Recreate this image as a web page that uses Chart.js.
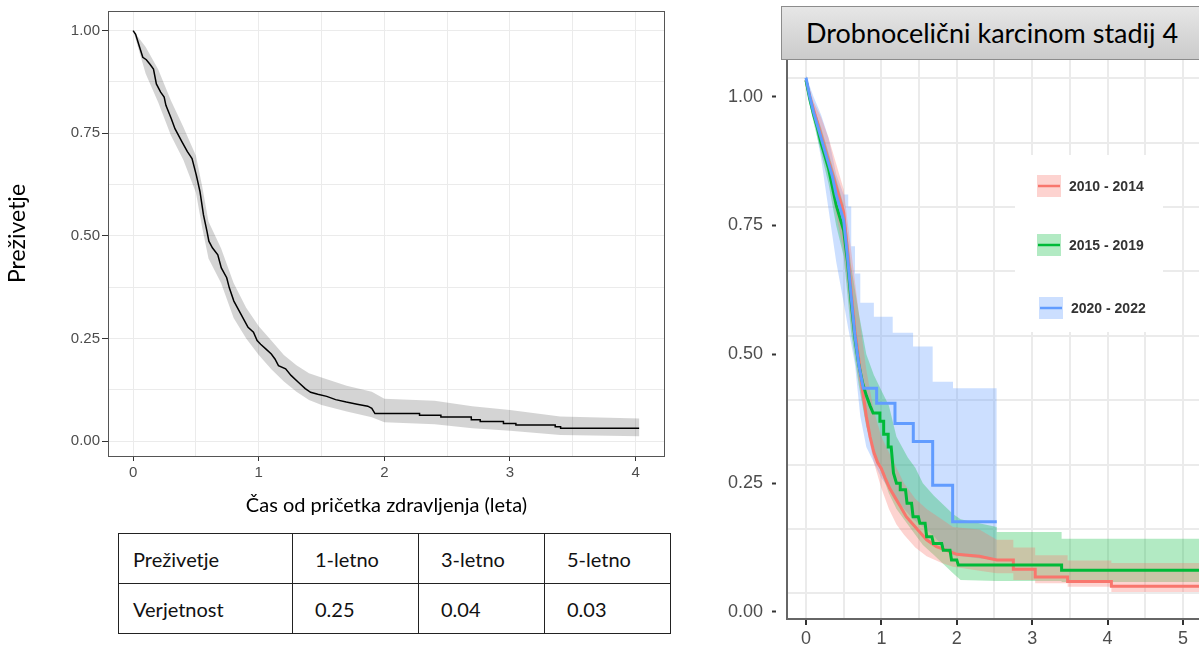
<!DOCTYPE html>
<html>
<head>
<meta charset="utf-8">
<script src="https://cdn.jsdelivr.net/npm/chart.js@4.4.0/dist/chart.umd.min.js"></script>
<style>
  html, body { margin: 0; padding: 0; background: #fff; overflow: hidden; }
  body { width: 1199px; height: 645px; position: relative; font-family: Lato, 'Open Sans', sans-serif; }
  #left { position: absolute; left: 0; top: 0; }
  #right { position: absolute; left: 700px; top: 0; }
  #title {
    position: absolute; left: 781px; top: 6px; width: 440px; height: 54px;
    box-sizing: border-box; border: 1px solid #8c8c8c;
    background: linear-gradient(#e6e6e6, #cbcbcb);
    font-size: 27px; line-height: 52px; padding-left: 24px; color: #000; white-space: nowrap;
  }
  table { position: absolute; left: 118px; top: 533px; border-collapse: collapse; font-size: 20px; color: #111; }
  td { border: 1px solid #222; height: 50px; box-sizing: border-box; padding: 0 0 0 22px; }
  td:first-child { padding-left: 14px; }
</style>
</head>
<body>
<canvas id="left" width="700" height="520"></canvas>
<canvas id="right" width="513" height="645"></canvas>
<div id="title">Drobnocelični karcinom stadij 4</div>
<table>
  <colgroup><col style="width:174px"><col style="width:126px"><col style="width:126px"><col style="width:126px"></colgroup>
  <tr><td>Preživetje</td><td>1-letno</td><td>3-letno</td><td>5-letno</td></tr>
  <tr><td>Verjetnost</td><td>0.25</td><td>0.04</td><td>0.03</td></tr>
</table>
<script>
// ---- left panel: overall survival (step corners written out where they are visible) ----
const kmTime = [0, 0.02, 0.048, 0.077, 0.105, 0.134, 0.162, 0.185, 0.219, 0.247, 0.261, 0.304, 0.333, 0.389, 0.432, 0.469, 0.503, 0.532, 0.56, 0.588, 0.603, 0.631, 0.674, 0.702, 0.745, 0.765, 0.802, 0.844, 0.887, 0.915, 0.958, 0.987, 1.015, 1.058, 1.1, 1.129, 1.157, 1.214, 1.257, 1.313, 1.37, 1.413, 1.47, 1.541, 1.612, 1.697, 1.783, 1.868, 1.9, 1.925, 2.28, 2.28, 2.45, 2.45, 2.692, 2.692, 2.763, 2.763, 2.948, 2.948, 3.047, 3.047, 3.36, 3.36, 3.403, 3.403, 4.028];
const kmSurv = [1, 0.991, 0.963, 0.935, 0.929, 0.918, 0.906, 0.87, 0.85, 0.838, 0.818, 0.785, 0.761, 0.729, 0.705, 0.688, 0.648, 0.608, 0.551, 0.511, 0.487, 0.471, 0.454, 0.422, 0.398, 0.374, 0.341, 0.317, 0.293, 0.277, 0.265, 0.245, 0.236, 0.224, 0.212, 0.2, 0.184, 0.176, 0.16, 0.144, 0.128, 0.119, 0.114, 0.109, 0.101, 0.095, 0.09, 0.085, 0.08, 0.067, 0.067, 0.063, 0.063, 0.059, 0.059, 0.052, 0.052, 0.048, 0.048, 0.043, 0.043, 0.039, 0.039, 0.035, 0.035, 0.031, 0.031];
const ciTime = [0, 0.1, 0.2, 0.3, 0.4, 0.5, 0.55, 0.6, 0.7, 0.8, 0.9, 1.0, 1.1, 1.2, 1.3, 1.4, 1.5, 1.7, 1.9, 2.0, 2.4, 2.7, 3.0, 3.4, 4.03];
const ciHigh = [1, 0.96, 0.905, 0.83, 0.765, 0.695, 0.62, 0.535, 0.47, 0.385, 0.325, 0.28, 0.245, 0.21, 0.185, 0.165, 0.155, 0.135, 0.12, 0.103, 0.098, 0.085, 0.076, 0.06, 0.055];
const ciLow = [1, 0.895, 0.825, 0.745, 0.685, 0.605, 0.52, 0.445, 0.385, 0.3, 0.25, 0.21, 0.175, 0.145, 0.12, 0.1, 0.088, 0.072, 0.058, 0.046, 0.041, 0.031, 0.025, 0.015, 0.012];
const leftXTicks = [0, 1, 2, 3, 4];
const leftXLabels = ['0', '1', '2', '3', '4'];
const leftXGrid = [0, 0.5, 1, 1.5, 2, 2.5, 3, 3.5, 4];
const leftYTicks = [0, 0.25, 0.5, 0.75, 1];
const leftYLabels = ['0.00', '0.25', '0.50', '0.75', '1.00'];
const leftYGrid = [0, 0.125, 0.25, 0.375, 0.5, 0.625, 0.75, 0.875, 1];

// ---- right panel: by period ----
const periods = ['2010 - 2014', '2015 - 2019', '2020 - 2022'];
const colors = ['#F8766D', '#00BA38', '#619CFF'];
const fills = ['rgba(248,118,109,0.32)', 'rgba(0,186,56,0.3)', 'rgba(97,156,255,0.32)'];

const redTime = [0, 0.05, 0.1, 0.15, 0.2, 0.25, 0.3, 0.35, 0.4, 0.45, 0.5, 0.55, 0.6, 0.65, 0.7, 0.75, 0.8, 0.85, 0.9, 0.95, 1.0, 1.05, 1.11, 1.19, 1.25, 1.33, 1.45, 1.6, 1.73, 1.91, 2.0, 2.3, 2.53, 2.75, 2.75, 3.04, 3.04, 3.47, 3.47, 4.05, 4.05, 5.4];
const redSurv = [1.032, 1.0, 0.975, 0.95, 0.925, 0.9, 0.875, 0.85, 0.825, 0.8, 0.775, 0.7, 0.62, 0.545, 0.49, 0.43, 0.38, 0.34, 0.31, 0.29, 0.278, 0.26, 0.24, 0.22, 0.205, 0.185, 0.165, 0.14, 0.127, 0.117, 0.112, 0.108, 0.101, 0.101, 0.083, 0.083, 0.068, 0.068, 0.059, 0.059, 0.05, 0.05];
const redCiTime = [0, 0.1, 0.2, 0.3, 0.4, 0.5, 0.6, 0.7, 0.8, 0.9, 1.0, 1.1, 1.2, 1.3, 1.45, 1.6, 1.8, 1.95, 2.3, 2.53, 2.75, 2.75, 3.04, 3.04, 3.47, 3.47, 4.05, 4.05, 5.4];
const redCiHigh = [1.04, 0.99, 0.96, 0.92, 0.87, 0.82, 0.7, 0.58, 0.47, 0.39, 0.34, 0.31, 0.28, 0.25, 0.22, 0.2, 0.18, 0.165, 0.16, 0.14, 0.14, 0.125, 0.125, 0.11, 0.11, 0.1, 0.1, 0.095, 0.095];
const redCiLow = [1.02, 0.96, 0.91, 0.85, 0.77, 0.7, 0.56, 0.45, 0.36, 0.29, 0.24, 0.2, 0.17, 0.15, 0.125, 0.108, 0.095, 0.088, 0.08, 0.075, 0.075, 0.062, 0.062, 0.056, 0.056, 0.049, 0.049, 0.039, 0.039];

const greenTime = [0, 0.05, 0.1, 0.15, 0.2, 0.25, 0.3, 0.35, 0.4, 0.45, 0.5, 0.55, 0.6, 0.65, 0.7, 0.75, 0.8, 0.85, 0.89, 0.98, 0.98, 1.03, 1.03, 1.09, 1.09, 1.13, 1.16, 1.2, 1.25, 1.25, 1.32, 1.34, 1.4, 1.42, 1.49, 1.51, 1.58, 1.6, 1.67, 1.69, 1.8, 1.82, 1.91, 1.93, 2.0, 2.02, 3.39, 3.39, 5.4];
const greenSurv = [1.032, 0.995, 0.965, 0.94, 0.91, 0.885, 0.86, 0.825, 0.79, 0.765, 0.74, 0.68, 0.6, 0.53, 0.48, 0.445, 0.42, 0.4, 0.386, 0.386, 0.37, 0.37, 0.345, 0.345, 0.32, 0.32, 0.27, 0.25, 0.25, 0.237, 0.237, 0.211, 0.211, 0.185, 0.185, 0.172, 0.172, 0.146, 0.146, 0.133, 0.133, 0.12, 0.12, 0.101, 0.101, 0.091, 0.091, 0.081, 0.081];
const greenCiTime = [0, 0.1, 0.2, 0.3, 0.4, 0.5, 0.6, 0.7, 0.8, 0.9, 1.0, 1.1, 1.2, 1.35, 1.45, 1.55, 1.7, 1.95, 2.05, 2.53, 2.53, 3.39, 3.39, 5.4];
const greenCiHigh = [1.04, 0.98, 0.94, 0.89, 0.84, 0.79, 0.67, 0.58, 0.5, 0.46, 0.43, 0.4, 0.34, 0.3, 0.28, 0.25, 0.225, 0.19, 0.18, 0.165, 0.155, 0.155, 0.142, 0.142];
const greenCiLow = [1.02, 0.95, 0.89, 0.83, 0.75, 0.69, 0.54, 0.44, 0.36, 0.31, 0.27, 0.23, 0.2, 0.17, 0.15, 0.13, 0.11, 0.075, 0.062, 0.06, 0.06, 0.06, 0.058, 0.058];

const blueTime = [0, 0.05, 0.1, 0.15, 0.2, 0.25, 0.3, 0.35, 0.4, 0.45, 0.5, 0.55, 0.6, 0.65, 0.7, 0.76, 0.937, 0.937, 1.18, 1.18, 1.423, 1.423, 1.68, 1.68, 1.945, 1.945, 2.53];
const blueSurv = [1.037, 1.0, 0.97, 0.945, 0.92, 0.895, 0.87, 0.845, 0.81, 0.785, 0.76, 0.69, 0.61, 0.535, 0.48, 0.434, 0.434, 0.405, 0.405, 0.366, 0.366, 0.331, 0.331, 0.246, 0.246, 0.175, 0.175];
const blueCiTime = [0, 0.1, 0.2, 0.3, 0.4, 0.5, 0.56, 0.56, 0.6, 0.6, 0.65, 0.65, 0.72, 0.72, 0.8, 0.9, 0.9, 1.0, 1.15, 1.15, 1.3, 1.42, 1.42, 1.55, 1.68, 1.68, 1.8, 1.95, 1.95, 2.53];
const blueCiHigh = [1.04, 1.0, 0.965, 0.92, 0.85, 0.81, 0.81, 0.787, 0.787, 0.71, 0.71, 0.657, 0.657, 0.6, 0.6, 0.6, 0.573, 0.573, 0.573, 0.542, 0.542, 0.542, 0.515, 0.515, 0.515, 0.447, 0.447, 0.447, 0.434, 0.434];
const blueCiLow = [1.03, 0.96, 0.88, 0.78, 0.68, 0.6, 0.55, 0.55, 0.52, 0.52, 0.48, 0.48, 0.38, 0.38, 0.32, 0.29, 0.29, 0.26, 0.23, 0.23, 0.2, 0.18, 0.18, 0.165, 0.15, 0.15, 0.13, 0.11, 0.11, 0.1];

const rightXTicks = [0, 1, 2, 3, 4, 5];
const rightXLabels = ['0', '1', '2', '3', '4', '5'];
const rightXGrid = [0, 0.5, 1, 1.5, 2, 2.5, 3, 3.5, 4, 4.5, 5];
const rightYTicks = [0, 0.25, 0.5, 0.75, 1];
const rightYLabels = ['0.00', '0.25', '0.50', '0.75', '1.00'];
// the panel's grid sits a little above the printed tick marks
const rightGridShift = 0.036;
const rightYGrid = [0, 0.125, 0.25, 0.375, 0.5, 0.625, 0.75, 0.875, 1].map(v => v + rightGridShift);

const pts = (xs, ys) => xs.map((x, i) => ({x: x, y: ys[i]}));
const pick = (ticks, labels) => v => {
  const i = ticks.indexOf(v);
  return i >= 0 ? labels[i] : '';
};
const majorColor = (ticks, c) => ctx => (ticks.indexOf(ctx.tick && ctx.tick.value) >= 0 ? c : 'rgba(0,0,0,0)');

const panelBorder = {
  id: 'panelBorder',
  afterDraw(chart) {
    const a = chart.chartArea, ctx = chart.ctx;
    ctx.save();
    ctx.strokeStyle = '#555';
    ctx.lineWidth = 1;
    ctx.strokeRect(a.left + 0.5, a.top + 0.5, a.right - a.left - 1, a.bottom - a.top);
    ctx.restore();
  }
};

new Chart(document.getElementById('left'), {
  type: 'line',
  data: {
    datasets: [
      { data: pts(kmTime, kmSurv), borderColor: '#000', borderWidth: 1.5, pointRadius: 0, fill: false, order: 0 },
      { data: pts(ciTime, ciHigh), borderColor: 'rgba(0,0,0,0)', borderWidth: 0, backgroundColor: 'rgba(0,0,0,0.17)', fill: '+1', pointRadius: 0, order: 1 },
      { data: pts(ciTime, ciLow), borderColor: 'rgba(0,0,0,0)', borderWidth: 0, fill: false, pointRadius: 0, order: 1 }
    ]
  },
  options: {
    responsive: false,
    animation: false,
    layout: { padding: { left: 0, right: 35, top: 8, bottom: 0 } },
    plugins: { legend: { display: false }, tooltip: { enabled: false } },
    scales: {
      x: {
        type: 'linear', min: -0.2, max: 4.234,
        afterBuildTicks: s => { s.ticks = leftXGrid.map(v => ({value: v})); },
        afterFit: s => { s.height = 64; },
        ticks: { callback: pick(leftXTicks, leftXLabels), autoSkip: false, maxRotation: 0, padding: 3,
                 color: '#4d4d4d', font: { family: 'Liberation Sans', size: 15 } },
        grid: { color: '#ebebeb', tickLength: 5, tickColor: majorColor(leftXTicks, '#333') },
        border: { display: false },
        title: { display: true, text: 'Čas od pričetka zdravljenja (leta)', color: '#000',
                 font: { family: 'Lato', size: 20 }, padding: { top: 0, bottom: 2 } }
      },
      y: {
        type: 'linear', min: -0.0363, max: 1.0477,
        afterBuildTicks: s => { s.ticks = leftYGrid.map(v => ({value: v})); },
        afterFit: s => { s.width = 108; },
        ticks: { callback: pick(leftYTicks, leftYLabels), autoSkip: false, padding: 2,
                 color: '#4d4d4d', font: { family: 'Liberation Sans', size: 15 } },
        grid: { color: '#ebebeb', tickLength: 6, tickColor: majorColor(leftYTicks, '#333') },
        border: { display: false },
        title: { display: true, text: 'Preživetje', color: '#000',
                 font: { family: 'Lato', size: 23 }, padding: { top: 4, bottom: 0 } }
      }
    }
  },
  plugins: [panelBorder]
});

// legend drawn inside the right panel
const insetLegend = {
  id: 'insetLegend',
  beforeDatasetsDraw(chart) {
    const ctx = chart.ctx;
    const rows = [186, 245, 308];
    const keyX = [337, 337, 339];
    ctx.save();
    ctx.fillStyle = '#fff';
    ctx.fillRect(315, 155, 148, 177);
    periods.forEach((p, i) => {
      const y = rows[i];
      ctx.fillStyle = fills[i];
      ctx.fillRect(keyX[i], y - 11, 24, 22);
      ctx.strokeStyle = colors[i];
      ctx.lineWidth = 2.5;
      ctx.beginPath();
      ctx.moveTo(keyX[i] + 1, y);
      ctx.lineTo(keyX[i] + 23, y);
      ctx.stroke();
      ctx.fillStyle = '#333';
      ctx.font = 'bold 14px "Liberation Sans"';
      ctx.textBaseline = 'middle';
      ctx.fillText(p, keyX[i] + 32, y + 1);
    });
    ctx.restore();
  }
};

const lineSet = (xs, ys, i) => ({
  label: periods[i], data: pts(xs, ys), borderColor: colors[i], borderWidth: 3,
  pointRadius: 0, fill: false, order: 2 - i
});
const bandSets = (xs, hi, lo, i) => [
  { data: pts(xs, hi), borderColor: 'rgba(0,0,0,0)', borderWidth: 0, backgroundColor: fills[i],
    fill: '+1', pointRadius: 0, order: 3 + i },
  { data: pts(xs, lo), borderColor: 'rgba(0,0,0,0)', borderWidth: 0, fill: false,
    pointRadius: 0, order: 3 + i }
];

new Chart(document.getElementById('right'), {
  type: 'line',
  data: {
    datasets: [
      lineSet(redTime, redSurv, 0),
      lineSet(greenTime, greenSurv, 1),
      lineSet(blueTime, blueSurv, 2),
      ...bandSets(redCiTime, redCiHigh, redCiLow, 0),
      ...bandSets(greenCiTime, greenCiHigh, greenCiLow, 1),
      ...bandSets(blueCiTime, blueCiHigh, blueCiLow, 2)
    ]
  },
  options: {
    responsive: false,
    animation: false,
    layout: { padding: { left: 0, right: 0, top: 60, bottom: 0 } },
    plugins: { legend: { display: false }, tooltip: { enabled: false } },
    scales: {
      x: {
        type: 'linear', min: -0.252, max: 5.398,
        afterBuildTicks: s => { s.ticks = rightXGrid.map(v => ({value: v})); },
        afterFit: s => { s.height = 26; },
        ticks: { callback: pick(rightXTicks, rightXLabels), autoSkip: false, maxRotation: 0, padding: 3,
                 color: '#4d4d4d', font: { family: 'Liberation Sans', size: 18 } },
        grid: { color: '#ebebeb', lineWidth: 2, tickLength: 6, tickWidth: 2, tickColor: majorColor(rightXTicks, '#333') },
        border: { display: true, color: '#666', width: 2 }
      },
      y: {
        type: 'linear', position: 'left', min: -0.0136, max: 1.0712,
        afterBuildTicks: s => { s.ticks = rightYTicks.map(v => ({value: v})); },
        afterFit: s => { s.width = 87; },
        ticks: { callback: pick(rightYTicks, rightYLabels), autoSkip: false, padding: 9,
                 color: '#4d4d4d', font: { family: 'Liberation Sans', size: 18 } },
        grid: { drawOnChartArea: false, tickLength: 15, tickWidth: 2, tickColor: '#333', tickBorderDash: [4, 11] },
        border: { display: true, color: '#666', width: 2 }
      },
      yg: {
        type: 'linear', position: 'left', min: -0.0136, max: 1.0712,
        afterBuildTicks: s => { s.ticks = rightYGrid.map(v => ({value: v})); },
        afterFit: s => { s.width = 0; },
        ticks: { display: false },
        grid: { color: '#ebebeb', lineWidth: 2, drawTicks: false },
        border: { display: false }
      }
    }
  },
  plugins: [insetLegend]
});
</script>
</body>
</html>
